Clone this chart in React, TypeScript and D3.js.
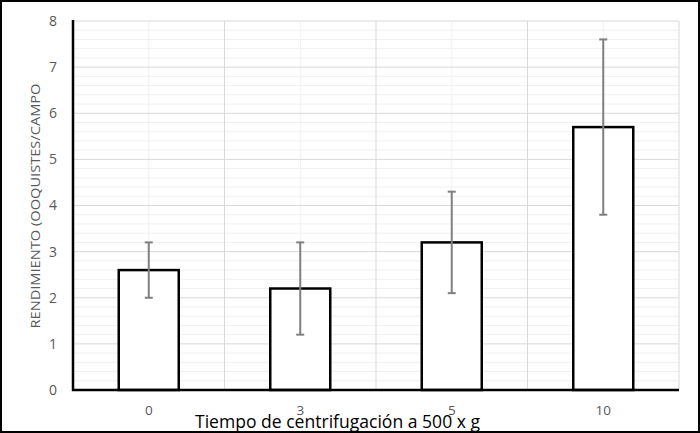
import React from "react";
import * as d3 from "d3";

const categories = ["0", "3", "5", "10"];
const values = [2.6, 2.2, 3.2, 5.7];
const errors = [0.6, 1.0, 1.1, 1.9];
const yTicks = [0, 1, 2, 3, 4, 5, 6, 7, 8];
const yTitle = "RENDIMIENTO (OOQUISTES/CAMPO";
const xTitle = "Tiempo de centrifugación a 500 x g";

export default function App() {
  const W = 700, H = 433;
  const left = 73, right = 679, top = 21, bottom = 390;
  const x = d3.scaleBand<string>().domain(categories).range([left, right]).paddingInner(0).paddingOuter(0);
  const y = d3.scaleLinear().domain([0, 8]).range([bottom, top]);
  const bw = x.bandwidth();
  const barW = 60;
  const minor = d3.range(0, 8.0001, 0.2).filter((v) => Math.abs(v - Math.round(v)) > 1e-6);
  const font = "'Open Sans', 'DejaVu Sans', sans-serif";
  return (
    <svg width={W} height={H} style={{ position: "absolute", left: 0, top: 0, background: "#fff" }} fontFamily={font}>
      <rect x={1} y={1} width={W - 2} height={H - 2} fill="#fff" stroke="#000" strokeWidth={2} />
      {minor.map((v, i) => (
        <line key={"m" + i} x1={left} x2={right} y1={y(v)} y2={y(v)} stroke="#f0f0f0" strokeWidth={1} />
      ))}
      {categories.map((c) => (
        <line key={"vc" + c} x1={x(c)! + bw / 2} x2={x(c)! + bw / 2} y1={top} y2={bottom} stroke="#f0f0f0" strokeWidth={1} />
      ))}
      {yTicks.map((t) => (
        <line key={"g" + t} x1={left} x2={right} y1={y(t)} y2={y(t)} stroke="#d9d9d9" strokeWidth={1} />
      ))}
      {categories.map((c) => (
        <line key={"vb" + c} x1={x(c)! + bw} x2={x(c)! + bw} y1={top} y2={bottom} stroke="#d9d9d9" strokeWidth={1} />
      ))}
      {categories.map((c, i) => (
        <rect key={"b" + c} x={x(c)! + bw / 2 - barW / 2} y={y(values[i])} width={barW} height={y(0) - y(values[i])}
          fill="#fff" stroke="#000" strokeWidth={2.5} />
      ))}
      {categories.map((c, i) => {
        const cx = x(c)! + bw / 2;
        const hi = y(values[i] + errors[i]);
        const lo = y(values[i] - errors[i]);
        return (
          <g key={"e" + c} stroke="#7f7f7f" strokeWidth={2}>
            <line x1={cx} x2={cx} y1={hi} y2={lo} />
            <line x1={cx - 4} x2={cx + 4} y1={hi} y2={hi} />
            <line x1={cx - 4} x2={cx + 4} y1={lo} y2={lo} />
          </g>
        );
      })}
      <line x1={left} x2={left} y1={top - 1} y2={bottom + 1} stroke="#000" strokeWidth={2.5} />
      <line x1={left - 1} x2={right} y1={bottom} y2={bottom} stroke="#000" strokeWidth={2.5} />
      {yTicks.map((t) => (
        <text key={"yt" + t} x={57} y={y(t)} dy="0.35em" textAnchor="end" fontSize={14} fill="#595959">{t}</text>
      ))}
      {categories.map((c) => (
        <text key={"xt" + c} x={x(c)! + bw / 2} y={415} textAnchor="middle" fontSize={13.5} fill="#595959">{c}</text>
      ))}
      <text transform="translate(40,206) rotate(-90)" textAnchor="middle" fontSize={13} fill="#595959" textLength={245} lengthAdjust="spacingAndGlyphs">{yTitle}</text>
      <text x={337.5} y={428} textAnchor="middle" fontSize={18} fill="#000" textLength={285} lengthAdjust="spacingAndGlyphs">{xTitle}</text>
    </svg>
  );
}
